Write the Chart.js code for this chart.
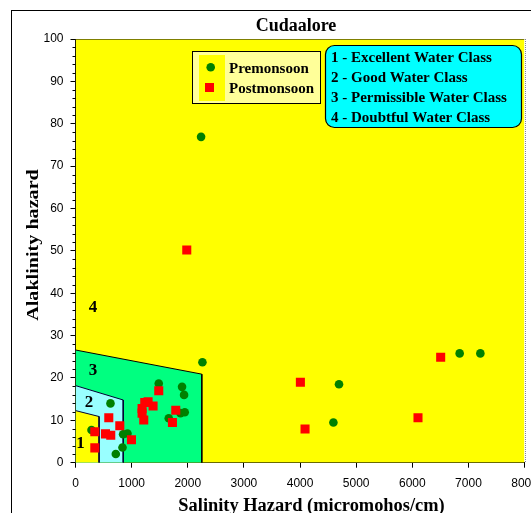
<!DOCTYPE html>
<html>
<head>
<meta charset="utf-8">
<script src="https://cdn.jsdelivr.net/npm/chart.js@4.4.1/dist/chart.umd.min.js"></script>
<style>
  html, body { margin: 0; padding: 0; background: #fff; overflow: hidden; }
  #wrap { position: relative; width: 531px; height: 513px; }
  #frame { position: absolute; left: 11px; top: 10px; width: 600px; height: 600px;
           border-left: 1px solid #000; border-top: 1px solid #000; }
  canvas { position: absolute; left: 0; top: 0; }
</style>
</head>
<body>
<div id="wrap">
  <div id="frame"></div>
  <canvas id="wilcox" width="531" height="513"></canvas>
</div>
<script>
// ── Data ──────────────────────────────────────────────────────
const seriesNames = ['Premonsoon', 'Postmonsoon'];
const preX  = [2237, 2261, 1483, 1898, 1934, 1946, 1870, 1661, 623, 285, 926, 848, 837, 718, 6843, 7212, 4694, 4594];
const preY  = [76.9, 23.7, 18.7, 17.9, 16.0, 11.9, 11.7, 10.5, 14.0, 7.7, 6.9, 6.7, 3.6, 2.05, 25.8, 25.8, 18.5, 9.5];
const postX = [1982, 6505, 4006, 4089, 6101, 1483, 1234, 1293, 1382, 1186, 1186, 1216, 1786, 1727, 593, 789, 344, 534, 628, 997, 344];
const postY = [50.2, 24.9, 19.0, 7.95, 10.6, 17.0, 14.2, 14.4, 13.4, 12.8, 11.7, 10.1, 12.4, 9.5, 10.6, 8.7, 7.3, 6.8, 6.5, 5.4, 3.5];

// class zones: [salinity, alkalinity] outline, filled down to 0
const class4Edge = [[0, 100], [8000, 100]];
const class3Edge = [[0, 26.6], [2250, 20.9], [2250, 0]];
const class2Edge = [[0, 18.2], [850, 14.8], [850, 0]];
const class1Edge = [[0, 12.3], [420, 10.9], [420, 0]];
const classLabelPos = [[89, 4.6], [242, 14.2], [313, 21.7], [313, 36.5]];
const classNames = ['1 - Excellent Water Class', '2 - Good Water Class',
                    '3 - Permissible Water Class', '4 - Doubtful Water Class'];

const xMin = 0, xMax = 8000, xStep = 1000;
const yMin = 0, yMax = 100, yStep = 10, yMinorStep = 2;

const SERIF = '"Liberation Serif", "Times New Roman", serif';
const SANS  = '"Liberation Sans", Arial, sans-serif';

const toPts = edge => edge.map(([x, y]) => ({ x, y }));
const zone = (edge, fillCol, lineCol, order) => ({
  type: 'line', data: toPts(edge), backgroundColor: fillCol, borderColor: lineCol,
  borderWidth: 1, fill: 'origin', pointRadius: 0, tension: 0, order,
});

// ── Decorations: zone numbers, titles, boxes, minor ticks ─────
const decor = {
  id: 'decor',
  afterDatasetsDraw(chart) {
    const { ctx, scales: { x, y } } = chart;
    ctx.save();
    ctx.fillStyle = '#000';
    ctx.font = 'bold 17px ' + SERIF;
    ctx.textAlign = 'center';
    ctx.textBaseline = 'middle';
    classLabelPos.forEach(([sx, ay], i) =>
      ctx.fillText(String(i + 1), x.getPixelForValue(sx), y.getPixelForValue(ay)));
    ctx.restore();
  },
  afterDraw(chart) {
    const { ctx, chartArea: a, scales: { y } } = chart;
    ctx.save();

    // minor ticks on alkalinity axis
    ctx.strokeStyle = '#000';
    ctx.lineWidth = 1;
    ctx.beginPath();
    for (let v = yMin + yMinorStep; v < yMax; v += yMinorStep) {
      if (v % yStep === 0) continue;
      const py = Math.round(y.getPixelForValue(v)) + 0.5;
      ctx.moveTo(a.left - 3, py);
      ctx.lineTo(a.left, py);
    }
    ctx.stroke();

    // dotted right edge of plot
    ctx.setLineDash([1, 1]);
    ctx.strokeStyle = '#8080a0';
    ctx.beginPath();
    ctx.moveTo(Math.round(a.right) + 0.5, a.top);
    ctx.lineTo(Math.round(a.right) + 0.5, a.bottom);
    ctx.stroke();
    ctx.setLineDash([]);

    // titles
    ctx.fillStyle = '#000';
    ctx.textAlign = 'center';
    ctx.textBaseline = 'alphabetic';
    ctx.font = 'bold 18px ' + SERIF;
    ctx.fillText('Cudaalore', 296, 31);
    ctx.font = 'bold 18.4px ' + SERIF;
    ctx.fillText('Salinity Hazard (micromohos/cm)', 311.5, 511);
    ctx.save();
    ctx.translate(37.5, 245);
    ctx.rotate(-Math.PI / 2);
    ctx.scale(1.15, 1);
    ctx.font = 'bold 17.5px ' + SERIF;
    ctx.fillText('Alaklinity hazard', 0, 0);
    ctx.restore();

    // series legend box
    ctx.fillStyle = '#FFFF99';
    ctx.fillRect(192, 51, 129, 53);
    ctx.fillStyle = '#FFFF00';
    ctx.fillRect(199, 55, 26, 46);
    ctx.strokeStyle = '#000';
    ctx.strokeRect(192.5, 51.5, 128, 52);
    ctx.fillStyle = '#008000';
    ctx.beginPath();
    ctx.arc(210.7, 67.3, 4.3, 0, Math.PI * 2);
    ctx.fill();
    ctx.fillStyle = '#FF0000';
    ctx.fillRect(205, 83, 9, 9);
    ctx.fillStyle = '#000';
    ctx.textAlign = 'left';
    ctx.font = 'bold 15px ' + SERIF;
    ctx.fillText(seriesNames[0], 229, 73);
    ctx.fillText(seriesNames[1], 229, 92.7);

    // class legend box
    ctx.beginPath();
    ctx.roundRect(325.5, 45.5, 196, 82, 9);
    ctx.fillStyle = '#00FFFF';
    ctx.fill();
    ctx.strokeStyle = '#000';
    ctx.lineWidth = 1.2;
    ctx.stroke();
    ctx.fillStyle = '#000';
    classNames.forEach((t, i) => ctx.fillText(t, 331, 61.5 + i * 20));

    ctx.restore();
  }
};

// ── Chart ─────────────────────────────────────────────────────
new Chart(document.getElementById('wilcox'), {
  type: 'scatter',
  data: {
    datasets: [
      { label: seriesNames[1], data: postX.map((x, i) => ({ x, y: postY[i] })),
        pointStyle: 'rect', pointRadius: 6.4, backgroundColor: '#FF0000', borderWidth: 0, order: 0 },
      { label: seriesNames[0], data: preX.map((x, i) => ({ x, y: preY[i] })),
        pointStyle: 'circle', pointRadius: 4.3, backgroundColor: '#008000', borderWidth: 0, order: 1 },
      zone(class1Edge, '#FFFF00', '#000033', 10),
      zone(class2Edge, '#99FFFF', '#000033', 20),
      zone(class3Edge, '#00FF80', '#000000', 30),
      zone(class4Edge, '#FFFF00', '#000000', 40),
    ],
  },
  options: {
    responsive: false,
    animation: false,
    events: [],
    layout: { padding: { left: 0, top: 39, right: 6, bottom: 0 } },
    plugins: { legend: { display: false }, title: { display: false }, tooltip: { enabled: false } },
    scales: {
      x: {
        type: 'linear', min: xMin, max: xMax,
        ticks: { stepSize: xStep, color: '#000', padding: 9, font: { family: SANS, size: 12 },
                 callback: v => String(v) },
        grid: { drawOnChartArea: false, drawTicks: true, tickLength: 5, color: '#000' },
        border: { display: true, color: '#000', width: 1 },
        afterFit: s => { s.height = 50.3; s.paddingLeft = 0; s.paddingRight = 0; },
      },
      y: {
        type: 'linear', min: yMin, max: yMax,
        ticks: { stepSize: yStep, color: '#000', padding: 7, font: { family: SANS, size: 12 },
                 callback: v => String(v) },
        grid: { drawOnChartArea: false, drawTicks: true, tickLength: 5, color: '#000' },
        border: { display: true, color: '#000', width: 1 },
        afterFit: s => { s.width = 75.5; },
      },
    },
  },
  plugins: [decor],
});
</script>
</body>
</html>
